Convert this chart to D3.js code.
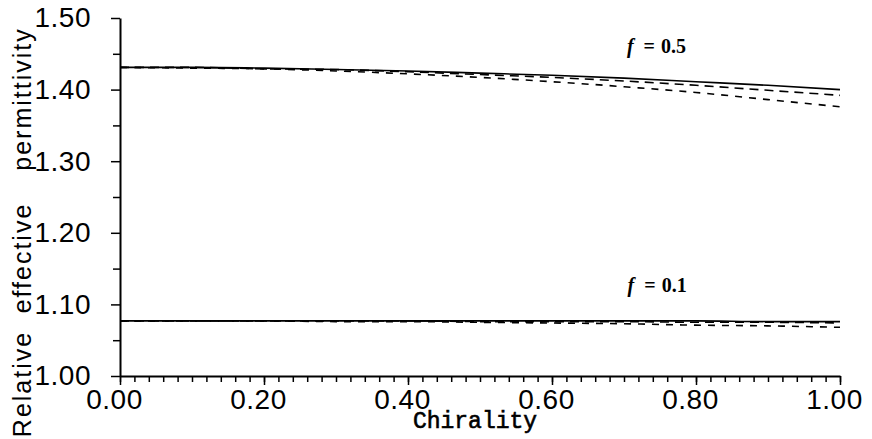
<!DOCTYPE html>
<html>
<head>
<meta charset="utf-8">
<style>
  body { margin: 0; background: #fff; }
  svg { display: block; }
  .tick text { font-family: "Liberation Sans", Arial, sans-serif; font-size: 28px; letter-spacing: 0.5px; }
  .ylab { font-family: "Liberation Sans", Arial, sans-serif; font-size: 25px; letter-spacing: 2px; }
</style>
<script src="https://d3js.org/d3.v7.min.js"></script>
</head>
<body>
<svg width="872" height="439"></svg>
<script>
// chirality values
var chirality = [0, 0.1, 0.2, 0.3, 0.4, 0.5, 0.6, 0.7, 0.8, 0.9, 1.0];

// f = 0.5
var f05Solid  = [1.431, 1.431, 1.430, 1.428, 1.426, 1.423, 1.420, 1.416, 1.411, 1.406, 1.400];
var f05DashA  = [1.431, 1.431, 1.429, 1.428, 1.425, 1.421, 1.417, 1.412, 1.406, 1.399, 1.392];
var f05DashB  = [1.431, 1.430, 1.429, 1.426, 1.422, 1.417, 1.411, 1.404, 1.396, 1.386, 1.376];

// f = 0.1
var f01Solid  = [1.077, 1.077, 1.077, 1.077, 1.077, 1.077, 1.077, 1.077, 1.077, 1.076, 1.076];
var f01DashA  = [1.077, 1.077, 1.077, 1.077, 1.077, 1.076, 1.076, 1.076, 1.075, 1.075, 1.074];
var f01DashB  = [1.077, 1.077, 1.077, 1.076, 1.076, 1.075, 1.074, 1.073, 1.071, 1.070, 1.068];

var xTicks = [0, 0.2, 0.4, 0.6, 0.8, 1.0];
var yTicks = [1.0, 1.1, 1.2, 1.3, 1.4, 1.5];
var yTitle = ["Relative", "effective", "permittivity"];

var svg = d3.select("svg");

var x = d3.scaleLinear().domain([0, 1]).range([120, 840]);
var y = d3.scaleLinear().domain([1.0, 1.5]).range([376, 18]);

// minor ticks first
svg.append("g")
    .attr("transform", "translate(0,376)")
    .call(d3.axisBottom(x).tickValues(d3.range(0, 1.001, 0.02)).tickSize(6).tickFormat(""))
    .call(function(g) { g.select(".domain").remove(); });
svg.append("g")
    .attr("transform", "translate(120,0)")
    .call(d3.axisLeft(y).tickValues(d3.range(1.05, 1.5, 0.1)).tickSize(7).tickFormat(""))
    .call(function(g) { g.select(".domain").remove(); });

// major axes
var xAxis = svg.append("g")
    .attr("transform", "translate(0,376)")
    .call(d3.axisBottom(x).tickValues(xTicks).tickSize(9).tickPadding(4).tickSizeOuter(0)
        .tickFormat(d3.format(".2f")));
xAxis.selectAll(".tick text").attr("dx", -6);

var yAxis = svg.append("g")
    .attr("transform", "translate(120,0)")
    .call(d3.axisLeft(y).tickValues(yTicks).tickSize(9).tickPadding(20).tickSizeOuter(0)
        .tickFormat(d3.format(".2f")));

svg.selectAll(".domain").attr("stroke-width", 2);
svg.selectAll(".tick line").attr("stroke-width", 1.5);

// curves
var line = d3.line()
    .x(function(d, i) { return x(chirality[i]); })
    .y(function(d) { return y(d); })
    .curve(d3.curveMonotoneX);

var series = [
  { v: f05Solid, dash: null },
  { v: f05DashA, dash: "9,6" },
  { v: f05DashB, dash: "7,7" },
  { v: f01Solid, dash: null },
  { v: f01DashA, dash: "9,6" },
  { v: f01DashB, dash: "7,7" }
];

svg.append("g").selectAll("path")
  .data(series)
  .enter().append("path")
    .attr("d", function(d) { return line(d.v); })
    .attr("fill", "none")
    .attr("stroke", "#000")
    .attr("stroke-width", 1.6)
    .attr("stroke-dasharray", function(d) { return d.dash; });

// f labels
function fLabel(xv, yv, val) {
  var t = svg.append("text")
      .attr("x", x(xv)).attr("y", y(yv))
      .attr("font-family", "'Liberation Serif', 'Times New Roman', serif")
      .attr("font-size", 20)
      .attr("font-weight", "bold");
  t.append("tspan").attr("font-style", "italic").text("f");
  t.append("tspan").attr("dx", 10).text("=");
  t.append("tspan").attr("dx", 6).text(val);
}
fLabel(0.704, 1.451, "0.5");
fLabel(0.705, 1.117, "0.1");

// axis titles
svg.append("text")
    .attr("x", 475).attr("y", 428)
    .attr("text-anchor", "middle")
    .attr("font-family", "'Liberation Mono', 'Courier New', monospace")
    .attr("font-size", 23)
    .attr("stroke", "#000")
    .attr("stroke-width", 0.6)
    .text("Chirality");

var yTitleCenters = [384, 258, 99];
svg.append("g").selectAll("text")
  .data(yTitle)
  .enter().append("text")
    .attr("class", "ylab")
    .attr("transform", function(d, i) { return "translate(31," + yTitleCenters[i] + ") rotate(-90)"; })
    .attr("text-anchor", "middle")
    .text(function(d) { return d; });
</script>
</body>
</html>
